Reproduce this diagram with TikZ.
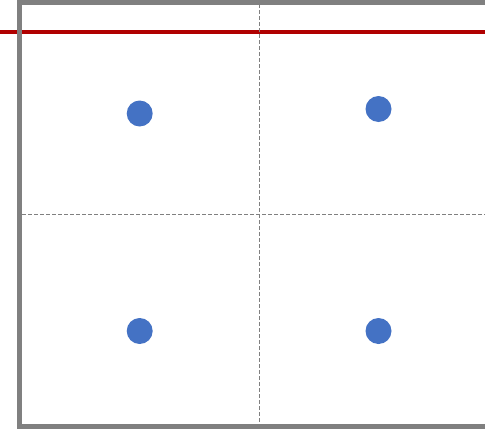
\documentclass[tikz,border=0pt]{standalone}
\definecolor{dotblue}{HTML}{4472C4}
\definecolor{framegray}{HTML}{808080}
\definecolor{redline}{HTML}{B00000}
\tikzset{
  dot/.style={circle,fill=dotblue,draw=none,minimum size=26pt,inner sep=0pt},
  gridline/.style={draw=framegray,line width=0.9pt,dash pattern=on 4pt off 2pt},
  frame/.style={draw=framegray,line width=5pt},
  limit/.style={draw=redline,line width=4pt}
}
\begin{document}
\begin{tikzpicture}[x=1pt,y=-1pt]
\useasboundingbox (0,0) rectangle (485,431);
\clip (0,0) rectangle (485,431);
\coordinate (rl) at (0,32);
\coordinate (rr) at (485,32);
\coordinate (vt) at (259.5,4);
\coordinate (vb) at (259.5,424);
\coordinate (hl) at (22,214);
\coordinate (hr) at (485,214);
\draw[limit] (rl) -- (rr);
\draw[gridline] (vt) -- (vb);
\draw[gridline] (hl) -- (hr);
\draw[frame] (19.5,2.3) rectangle (500,426);
\node[dot] (d1) at (139.7,113.5) {};
\node[dot] (d2) at (378.5,109) {};
\node[dot] (d3) at (139.7,331) {};
\node[dot] (d4) at (378.5,331) {};
\end{tikzpicture}
\end{document}
